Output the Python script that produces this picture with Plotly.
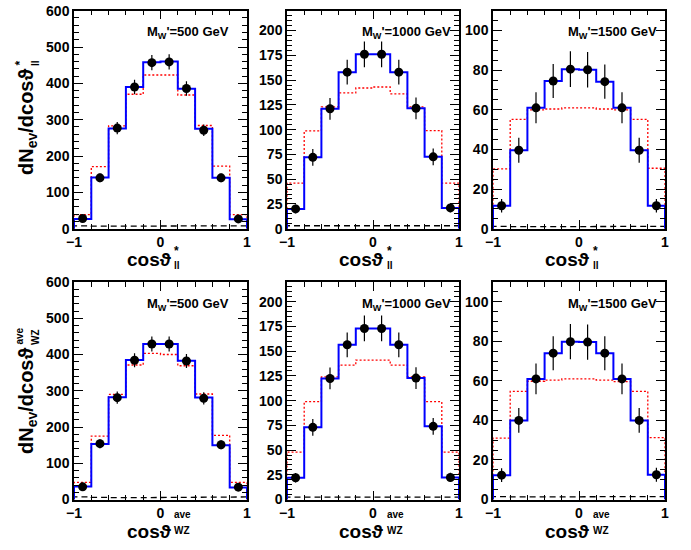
import plotly.graph_objects as go

W, H = 691, 550

edges = [-1.0, -0.8, -0.6, -0.4, -0.2, 0.0, 0.2, 0.4, 0.6, 0.8, 1.0]
centers = [-0.9, -0.7, -0.5, -0.3, -0.1, 0.1, 0.3, 0.5, 0.7, 0.9]

# Panel 1: M=500, cos theta*_ll
p1_blue = [27, 141, 276, 390, 458, 460, 385, 275, 140, 26]
p1_red = [39, 171, 283, 370, 423, 423, 368, 284, 172, 39]
p1_bkg = [8, 7, 7, 6, 6, 6, 6, 7, 7, 8]
p1_pts = [28, 140, 277, 390, 457, 459, 386, 271, 140, 27]
p1_err = [5, 12, 17, 20, 21, 21, 20, 16, 12, 5]

# Panel 2: M=1000, cos theta*_ll
p2_blue = [20, 72, 121, 158, 176, 176, 158, 121.5, 72.5, 21]
p2_red = [46, 98.7, 123, 137, 142, 143, 136, 123, 99, 46]
p2_bkg = [3, 3, 2.5, 2.5, 2.5, 2.5, 2.5, 2.5, 3, 3]
p2_pts = [20, 72, 121, 158, 176, 176, 158, 121.5, 72.5, 21]
p2_err = [4.5, 8.5, 11, 12.5, 13, 13, 12.5, 11, 8.5, 4.5]

# Panel 3: M=1500, cos theta*_ll
p3_blue = [11.6, 39.6, 61, 74.5, 80.5, 80.2, 74.2, 61, 39.6, 11.6]
p3_red = [30.2, 55.2, 60, 60.4, 61, 61, 60.4, 60, 55.2, 30.5]
p3_bkg = [1.2, 1, 1, 1, 1, 1, 1, 1, 1, 1.2]
p3_pts = [11.6, 39.6, 61, 74.5, 80.5, 80.2, 74.2, 61, 39.6, 11.6]
p3_err = [3.4, 6.3, 7.8, 8.6, 9, 9, 8.6, 7.8, 6.3, 3.4]

# Panel 4: M=500, cos theta^ave_WZ
p4_blue = [36, 153, 282, 385, 429, 429, 383, 281.5, 150, 33]
p4_red = [47, 175, 290, 371, 403, 400, 369, 291, 177, 47]
p4_bkg = [7, 6, 5, 5, 5, 5, 5, 5, 6, 7]
p4_pts = [35, 154, 281, 384, 429, 429, 382, 279, 151, 34]
p4_err = [6, 12.5, 17, 19.5, 21, 21, 19.5, 17, 12.5, 6]

# Panel 5: M=1000, cos theta^ave_WZ
p5_blue = [22, 73, 122.4, 156.5, 173, 173, 156.5, 122.8, 74, 22.3]
p5_red = [48, 99, 124, 136, 141, 141, 136, 124, 99, 48]
p5_bkg = [2.5, 2.5, 2.4, 2.4, 2.4, 2.4, 2.4, 2.4, 2.5, 2.5]
p5_pts = [22, 73, 122.4, 156.5, 173, 173, 156.5, 122.8, 74, 22.3]
p5_err = [4.7, 8.5, 11, 12.5, 13, 13, 12.5, 11, 8.5, 4.7]

# Panel 6: M=1500, cos theta^ave_WZ
p6_blue = [12.3, 40, 61, 74, 79.8, 79.6, 74, 61, 40, 12.5]
p6_red = [31, 54.7, 59.8, 60.4, 61, 61, 60.4, 59.6, 54.7, 31.3]
p6_bkg = [1.5, 1.3, 1.3, 1.3, 1.3, 1.3, 1.3, 1.3, 1.3, 1.5]
p6_pts = [12.3, 40, 61, 74, 79.8, 79.6, 74, 61, 40, 12.5]
p6_err = [3.5, 6.3, 7.8, 8.6, 8.9, 8.9, 8.6, 7.8, 6.3, 3.5]

masses = ["500", "1000", "1500", "500", "1000", "1500"]
y_ranges = [[0, 600], [0, 220], [0, 110], [0, 600], [0, 220], [0, 110]]
y_dticks = [100, 25, 20, 100, 25, 20]
y_minor = [20, 5, 5, 20, 5, 5]
x_ticks = [-1, 0, 1]
x_ticktext = ["\u22121", "0", "1"]

panels = [
    (p1_blue, p1_red, p1_bkg, p1_pts, p1_err),
    (p2_blue, p2_red, p2_bkg, p2_pts, p2_err),
    (p3_blue, p3_red, p3_bkg, p3_pts, p3_err),
    (p4_blue, p4_red, p4_bkg, p4_pts, p4_err),
    (p5_blue, p5_red, p5_bkg, p5_pts, p5_err),
    (p6_blue, p6_red, p6_bkg, p6_pts, p6_err),
]


def step(vals):
    xs = [edges[0]]
    ys = [0]
    for i, v in enumerate(vals):
        xs += [edges[i], edges[i + 1]]
        ys += [v, v]
    xs.append(edges[-1])
    ys.append(0)
    return xs, ys


# pixel layout (window pixels)
x_px = [(74, 247), (287, 459), (493, 665)]
y_px = [(10.7, 228.7), (282, 499.5)]


def fx(p):
    return p / W


def fy(p):
    return 1 - p / H


fig = go.Figure()
FONT = "Liberation Sans, Arial, Helvetica, sans-serif"


def ann(x, y, text, size, xanchor="center", yanchor="middle", angle=0):
    fig.add_annotation(xref="paper", yref="paper", x=fx(x), y=fy(y), text=text,
                       xanchor=xanchor, yanchor=yanchor, showarrow=False,
                       textangle=angle, borderpad=0,
                       font=dict(family=FONT, size=size, color="black", weight="bold"))


for k, (blue, red, bkg, pts, err) in enumerate(panels):
    r, c = divmod(k, 3)
    xa = "x" if k == 0 else f"x{k+1}"
    ya = "y" if k == 0 else f"y{k+1}"
    xs, ys = step(red)
    fig.add_trace(go.Scatter(x=xs, y=ys, mode="lines", xaxis=xa, yaxis=ya,
                             line=dict(color="#ff0000", width=1.3, dash="2px,2px"),
                             showlegend=False, hoverinfo="skip"))
    xs, ys = step(bkg)
    fig.add_trace(go.Scatter(x=xs, y=ys, mode="lines", xaxis=xa, yaxis=ya,
                             line=dict(color="black", width=1.3, dash="6px,4px"),
                             showlegend=False, hoverinfo="skip"))
    xs, ys = step(blue)
    fig.add_trace(go.Scatter(x=xs, y=ys, mode="lines", xaxis=xa, yaxis=ya,
                             line=dict(color="#0000ff", width=2),
                             showlegend=False, hoverinfo="skip"))
    fig.add_trace(go.Scatter(x=centers, y=pts, mode="markers", xaxis=xa, yaxis=ya,
                             marker=dict(color="black", size=9),
                             error_y=dict(type="data", array=err, color="black",
                                          thickness=1.2, width=0),
                             showlegend=False))

    ax_common = dict(showline=True, linecolor="black", linewidth=1.5, mirror="allticks",
                     ticks="inside", tickcolor="black", tickwidth=1.2, showgrid=False,
                     zeroline=False, automargin=False, ticklabeloverflow="allow",
                     tickfont=dict(family=FONT, size=14, color="black", weight="bold"))
    xd = [fx(x_px[c][0]), fx(x_px[c][1])]
    yd = [fy(y_px[r][1]), fy(y_px[r][0])]
    fig.update_layout(**{
        ("xaxis" if k == 0 else f"xaxis{k+1}"): dict(
            domain=xd, range=[-1, 1], tickvals=x_ticks, ticktext=x_ticktext,
            ticklen=9, anchor=ya,
            minor=dict(dtick=0.2, tick0=0, ticklen=5, ticks="inside", tickcolor="black",
                       tickwidth=1.2),
            **ax_common),
        ("yaxis" if k == 0 else f"yaxis{k+1}"): dict(
            domain=yd, range=y_ranges[k], dtick=y_dticks[k], ticklen=9, anchor=xa,
            minor=dict(dtick=y_minor[k], ticklen=5, ticks="inside", tickcolor="black",
                       tickwidth=1.2),
            **ax_common),
    })

    # mass label
    ann(x_px[c][1] - (17 if c == 0 else 7), y_px[r][0] + 22,
        f"M<sub>W</sub>'={masses[k]} GeV", 13, xanchor="right")

# x axis titles: main part + stacked super/subscripts
for c in range(3):
    cx = (x_px[c][0] + x_px[c][1]) / 2
    edge = cx + 12
    # top row
    ann(edge, 260, "cos\u03d1", 19, xanchor="right")
    ann(edge + 1, 251, "*", 12, xanchor="left")
    ann(edge + 1, 265, "ll", 10, xanchor="left")
    # bottom row
    ann(edge, 531, "cos\u03d1", 19, xanchor="right")
    ann(edge + 1, 514, "ave", 10, xanchor="left")
    ann(edge + 1, 530, "WZ", 10, xanchor="left")

# y axis titles (rotated)
ann(27, 68, "dN<sub>ev</sub>/dcos\u03d1", 20, yanchor="top", angle=-90)
ann(19, 67, "*", 12, yanchor="bottom", angle=-90)
ann(35, 67, "ll", 10, yanchor="bottom", angle=-90)
ann(27, 347, "dN<sub>ev</sub>/dcos\u03d1", 20, yanchor="top", angle=-90)
ann(19, 346, "ave", 10, yanchor="bottom", angle=-90)
ann(35, 346, "WZ", 10, yanchor="bottom", angle=-90)

fig.update_layout(width=W, height=H, margin=dict(l=0, r=0, t=0, b=0),
                  template="none", paper_bgcolor="white", plot_bgcolor="white")

# remove the default 8px page margin so the figure fills the window exactly
fig.write_html("out.html", config={"displayModeBar": False},
               post_script="document.body.style.margin='0';")
